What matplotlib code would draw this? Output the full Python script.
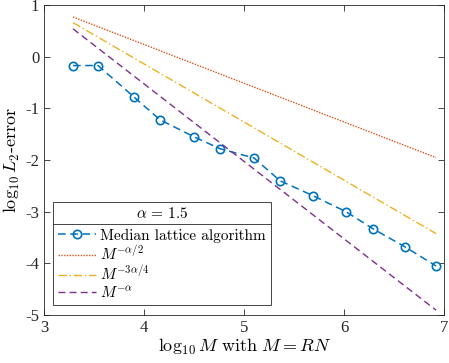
import numpy as np
import matplotlib
matplotlib.use("Agg")
import matplotlib.pyplot as plt
from matplotlib.lines import Line2D

# --- data ---
log_m = [3.29, 3.54, 3.90, 4.16, 4.50, 4.76, 5.10, 5.36, 5.69, 6.02, 6.29, 6.61, 6.92]
log_err = [-0.17, -0.17, -0.78, -1.22, -1.55, -1.78, -1.96, -2.40, -2.69, -3.00, -3.33, -3.68, -4.05]
alpha = 1.5
ref_x = [3.29, 6.92]
ref_start = {"half": 0.77, "three_q": 0.66, "full": 0.54}
ref_slope = {"half": -alpha / 2, "three_q": -3 * alpha / 4, "full": -alpha}

plt.rcParams["mathtext.fontset"] = "cm"
plt.rcParams["font.family"] = ["Liberation Serif", "DejaVu Serif"]

fig = plt.figure(figsize=(4.49, 3.63), dpi=100)
ax = fig.add_axes([0.098, 0.132, 0.891, 0.854])

ax.plot(log_m, log_err, ls=(0, (5, 3)), color="#0072BD", lw=1.1, marker="o",
        ms=6, mfc="none", mew=1.2, label="Median lattice algorithm")
styles = {"half": ((0, (1, 1)), "#D95319", r"$M^{-\alpha/2}$"),
          "three_q": ((0, (6, 2, 1, 2)), "#EDB120", r"$M^{-3\alpha/4}$"),
          "full": ((0, (5, 3)), "#7E2F8E", r"$M^{-\alpha}$")}
for k, (ls, c, lab) in styles.items():
    xs = np.array(ref_x)
    ys = ref_start[k] + ref_slope[k] * (xs - ref_x[0])
    ax.plot(xs, ys, ls=ls, color=c, lw=1.0, label=lab)

ax.set_xlim(3, 7)
ax.set_ylim(-5, 1)
ax.set_xticks([3, 4, 5, 6, 7])
ax.set_yticks([-5, -4, -3, -2, -1, 0, 1])
ax.set_yticklabels(["-5", "-4", "-3", "-2", "-1", "0", "1"])
ax.tick_params(direction="in", top=True, right=True, labelsize=12, length=4,
               width=0.6, color="#262626", labelcolor="#262626")
for s in ax.spines.values():
    s.set_linewidth(0.6)
    s.set_color("#262626")

ax.set_xlabel(r"$\log_{10} M\ \mathrm{with}\ M = RN$", fontsize=13, labelpad=1)
ax.set_ylabel(r"$\log_{10} L_2\mathrm{\text{-}error}$", fontsize=13, labelpad=2)

leg = ax.legend(loc="lower left", bbox_to_anchor=(0.0225, 0.032), borderaxespad=0,
                title=r"$\alpha\,=\,1.5$", fancybox=False, edgecolor="#262626",
                framealpha=1, handlelength=2.5, handletextpad=0.3, labelspacing=0.12,
                borderpad=0.3, prop={"family": "cmr10", "size": 11},
                title_fontsize=11)
leg.get_frame().set_linewidth(0.6)
leg._legend_box.sep = 5

fig.canvas.draw()
tb = leg.get_title().get_window_extent()
fb = leg.get_frame().get_window_extent()
inv = fig.transFigure.inverted()
y_sep = (tb.y0 - 3)
(x0, y0), (x1, _) = inv.transform([(fb.x0, y_sep), (fb.x1, y_sep)])
fig.add_artist(Line2D([x0, x1], [y0, y0], transform=fig.transFigure,
                      color="#262626", lw=0.6))

fig.savefig("out.png", dpi=100)
